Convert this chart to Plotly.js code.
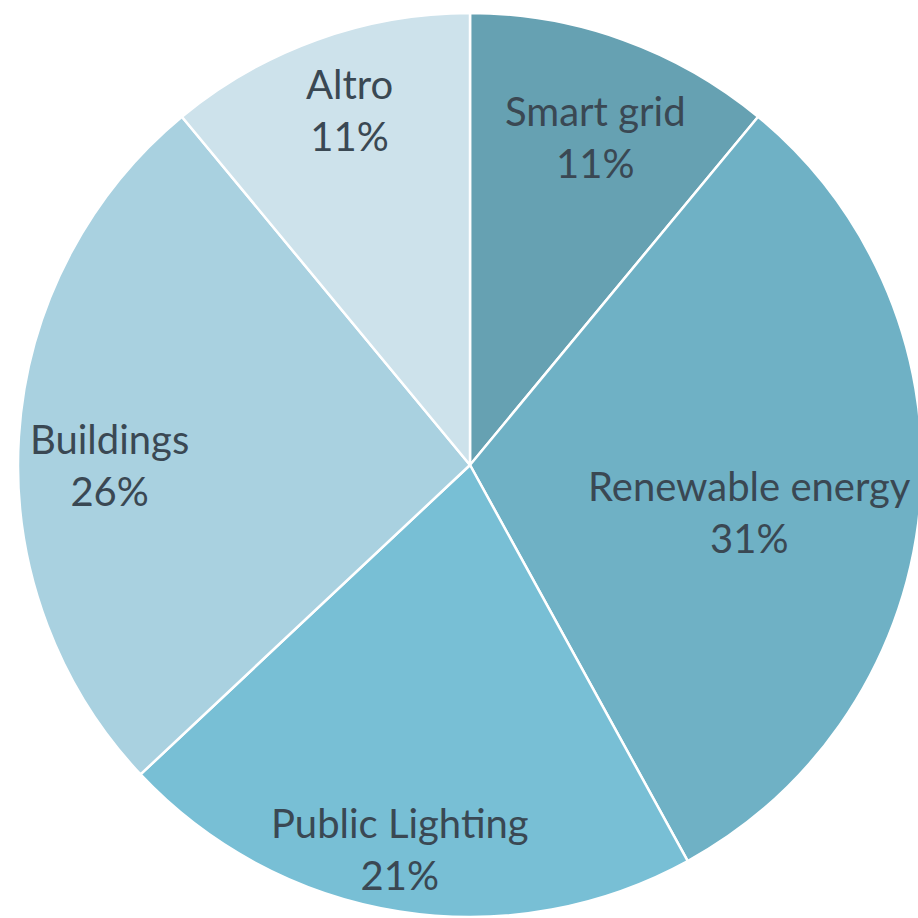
<!DOCTYPE html>
<html>
<head>
<meta charset="utf-8">
<script src="https://cdn.plot.ly/plotly-3.0.1.min.js"></script>
<style>
html,body{margin:0;padding:0;background:#fff;overflow:hidden;width:918px;height:918px;}
#chart{position:absolute;left:18px;top:13px;width:904px;height:904px;}
</style>
</head>
<body>
<div id="chart"></div>
<script>
const categories = ["Smart grid", "Renewable energy", "Public Lighting", "Buildings", "Altro"];
const values = [11, 31, 21, 26, 11];
const colors = ["#66a1b2", "#6fb1c5", "#78bfd5", "#a9d1e0", "#cde2eb"];
// label placement (layout only): radial fraction and angular shift in degrees
const labelRadius = [0.777, 0.628, 0.863, 0.797, 0.83];
const labelShift = [1.1, 4.1, 1.3, -3.6, 1.1];

const total = values.reduce((a, b) => a + b, 0);
const annotations = [];
let cum = 0;
values.forEach((v, i) => {
  const mid = (cum + v / 2) / total * 2 * Math.PI + labelShift[i] * Math.PI / 180;
  cum += v;
  const r = 0.5 * labelRadius[i];
  annotations.push({
    xref: "paper", yref: "paper",
    x: 0.5 + r * Math.sin(mid),
    y: 0.5 + r * Math.cos(mid),
    xanchor: "center", yanchor: "middle",
    showarrow: false,
    text: categories[i] + "<br>" + Math.round(v / total * 100) + "%",
    font: {family: "Lato, 'Open Sans', sans-serif", size: 40, color: "#3a4853"}
  });
});

const data = [{
  type: "pie",
  labels: categories,
  values: values,
  sort: false,
  direction: "clockwise",
  rotation: 0,
  textinfo: "none",
  hoverinfo: "none",
  marker: {colors: colors, line: {color: "#ffffff", width: 2.5}},
  showlegend: false
}];

const layout = {
  width: 904, height: 904,
  margin: {l: 0, r: 0, t: 0, b: 0, pad: 0},
  paper_bgcolor: "rgba(0,0,0,0)",
  plot_bgcolor: "rgba(0,0,0,0)",
  showlegend: false,
  annotations: annotations
};

Plotly.newPlot("chart", data, layout, {staticPlot: true, displayModeBar: false});
</script>
</body>
</html>
